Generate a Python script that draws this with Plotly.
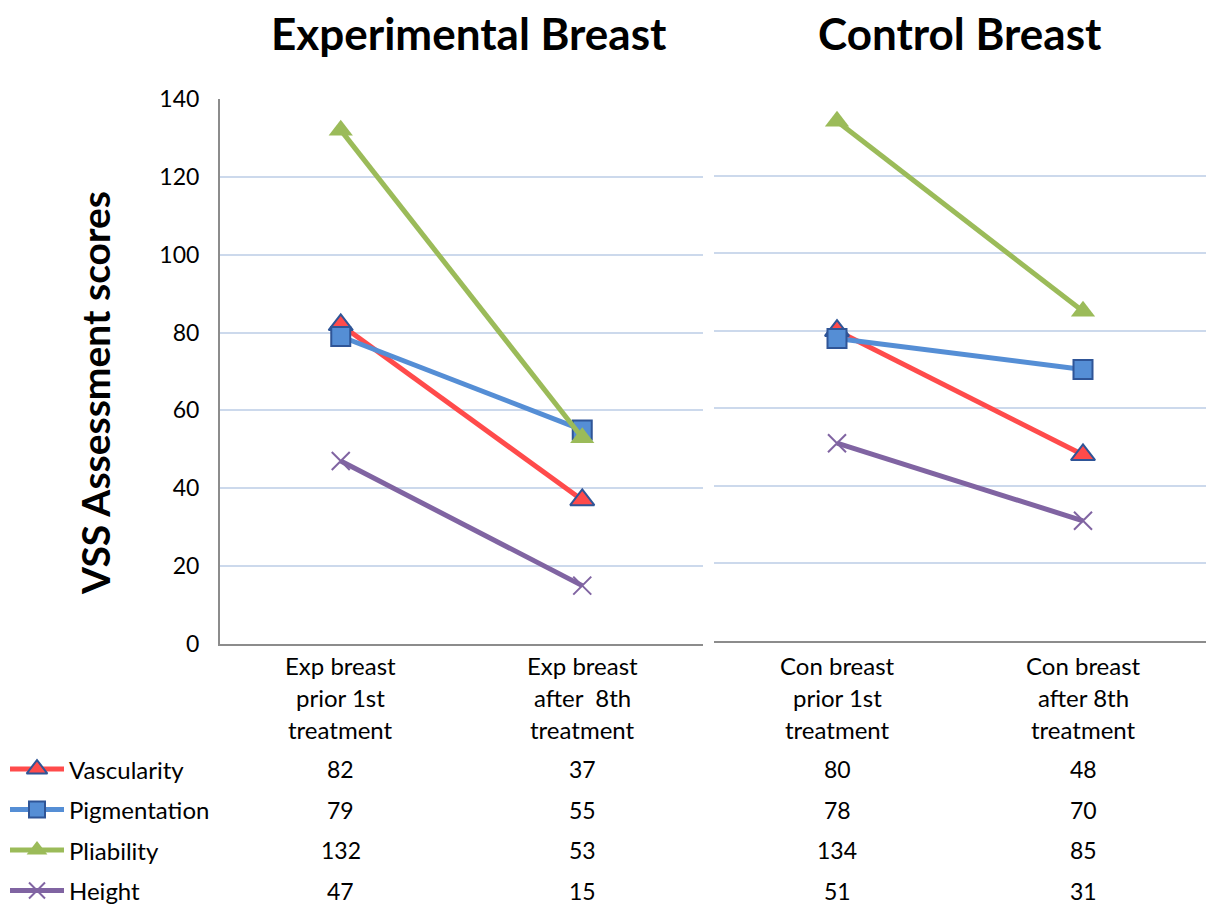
import plotly.graph_objects as go

# ---- data ----
series_names = ["Vascularity", "Pigmentation", "Pliability", "Height"]
exp_categories = ["Exp breast prior 1st treatment", "Exp breast after  8th treatment"]
con_categories = ["Con breast prior 1st treatment", "Con breast after 8th treatment"]
exp_label_lines = [["Exp breast", "prior 1st", "treatment"], ["Exp breast", "after  8th", "treatment"]]
con_label_lines = [["Con breast", "prior 1st", "treatment"], ["Con breast", "after 8th", "treatment"]]

exp_vascularity = [82, 37]
exp_pigmentation = [79, 55]
exp_pliability = [132, 53]
exp_height = [47, 15]

con_vascularity = [80, 48]
con_pigmentation = [78, 70]
con_pliability = [134, 85]
con_height = [51, 31]

y_ticks = [0, 20, 40, 60, 80, 100, 120, 140]

exp_values = [exp_vascularity, exp_pigmentation, exp_pliability, exp_height]
con_values = [con_vascularity, con_pigmentation, con_pliability, con_height]

# ---- styles ----
FONT = "Lato"
W, H = 1206, 906
TEXT_SIZE = 24
NUM_SIZE = 23
line_colors = ["#FF4B4B", "#558ED5", "#9BBB59", "#8064A2"]
marker_styles = [
    dict(symbol="triangle-up", size=21, color="#FF4B4B", line=dict(color="#2F5597", width=2)),
    dict(symbol="square", size=19, color="#558ED5", line=dict(color="#2F5597", width=2)),
    dict(symbol="triangle-up", size=21, color="#9BBB59", line=dict(width=0)),
    dict(symbol="x-thin", size=18, color="#8064A2", line=dict(color="#8064A2", width=2)),
]
legend_marker_styles = [
    dict(symbol="triangle-up", size=18, color="#FF4B4B", line=dict(color="#2F5597", width=2)),
    dict(symbol="square", size=16, color="#558ED5", line=dict(color="#2F5597", width=2)),
    dict(symbol="triangle-up", size=18, color="#9BBB59", line=dict(width=0)),
    dict(symbol="x-thin", size=16, color="#8064A2", line=dict(color="#8064A2", width=2)),
]


def px_x(p):
    return p / W


def px_y(p):
    return 1 - p / H


fig = go.Figure()

# chart series, one panel per breast
for i, name in enumerate(series_names):
    fig.add_trace(go.Scatter(
        x=exp_categories, y=exp_values[i], mode="lines+markers", name=name,
        line=dict(color=line_colors[i], width=5), marker=marker_styles[i],
        xaxis="x", yaxis="y", showlegend=False))
for i, name in enumerate(series_names):
    fig.add_trace(go.Scatter(
        x=con_categories, y=con_values[i], mode="lines+markers", name=name,
        line=dict(color=line_colors[i], width=5), marker=marker_styles[i],
        xaxis="x2", yaxis="y2", showlegend=False))

# legend keys of the data table (one row per series)
for i, name in enumerate(series_names):
    fig.add_trace(go.Scatter(
        x=[0, 1], y=[i, i], mode="lines", line=dict(color=line_colors[i], width=5),
        xaxis="x3", yaxis="y3", showlegend=False, hoverinfo="skip"))
    fig.add_trace(go.Scatter(
        x=[0.5], y=[i], mode="markers", marker=legend_marker_styles[i],
        xaxis="x3", yaxis="y3", showlegend=False, hoverinfo="skip"))

grid_color = "#CCD9EC"
axis_color = "#8C8C8C"
tick_font = dict(family=FONT, size=NUM_SIZE, color="#000000")

# table rows: first row centre and spacing
row_top = 748.8
row_gap = 40.5
fig.update_layout(
    width=W, height=H,
    margin=dict(l=0, r=0, t=0, b=0, autoexpand=False),
    paper_bgcolor="white", plot_bgcolor="white",
    font=dict(family=FONT, color="#000000"),
    xaxis=dict(domain=[px_x(220), px_x(703)], type="category", range=[-0.5, 1.5],
               showticklabels=False, showgrid=False, zeroline=False, automargin=False,
               showline=True, linecolor=axis_color, linewidth=2, ticks=""),
    yaxis=dict(domain=[px_y(644), px_y(99)], range=[0, 140], tickvals=y_ticks,
               showgrid=True, gridcolor=grid_color, gridwidth=1.5, zeroline=False,
               showline=True, linecolor=axis_color, linewidth=2, ticks="", automargin=False,
               tickfont=tick_font, ticklabelstandoff=14),
    xaxis2=dict(domain=[px_x(714), 1.0], type="category", range=[-0.5, 1.5],
                showticklabels=False, showgrid=False, zeroline=False, automargin=False,
                showline=True, linecolor=axis_color, linewidth=2, ticks="", anchor="y2"),
    yaxis2=dict(domain=[px_y(641), px_y(98)], range=[0, 140], tickvals=y_ticks,
                showgrid=True, gridcolor=grid_color, gridwidth=1.5, zeroline=False,
                automargin=False,
                showline=False, showticklabels=False, ticks="", anchor="x2"),
    xaxis3=dict(domain=[px_x(10), px_x(64)], range=[0, 1], visible=False,
                automargin=False, anchor="y3"),
    yaxis3=dict(domain=[0, px_y(row_top)],
                range=[-0.5 + (H - row_top) / row_gap, -0.5],
                visible=False, automargin=False, anchor="x3"),
)

annotations = []


def text_note(text, x, y, xref="paper", yref="paper", size=TEXT_SIZE, xanchor="center", angle=0):
    return dict(text=text, x=x, y=y, xref=xref, yref=yref, showarrow=False,
                xanchor=xanchor, yanchor="middle", textangle=angle,
                font=dict(family=FONT, size=size, color="#000000"))


# panel titles
annotations.append(text_note("<b>Experimental Breast</b>", px_x(469), px_y(33), size=44))
annotations.append(text_note("<b>Control Breast</b>", px_x(960), px_y(33), size=44))

# y-axis title
annotations.append(text_note("<b>VSS Assessment scores</b>", px_x(95), px_y(393), size=39, angle=-90))

# category labels, line by line
label_line_y = [665, 697, 729]
for xref, cats, lines in [("x", exp_categories, exp_label_lines),
                          ("x2", con_categories, con_label_lines)]:
    for cat, parts in zip(cats, lines):
        for part, ly in zip(parts, label_line_y):
            annotations.append(text_note(part, cat, px_y(ly), xref=xref))

# data table: series names and values
for i, name in enumerate(series_names):
    annotations.append(text_note(name, px_x(67), i, yref="y3", xanchor="left"))
    for cat, v in zip(exp_categories, exp_values[i]):
        annotations.append(text_note(str(v), cat, i, xref="x", yref="y3", size=NUM_SIZE))
    for cat, v in zip(con_categories, con_values[i]):
        annotations.append(text_note(str(v), cat, i, xref="x2", yref="y3", size=NUM_SIZE))

fig.update_layout(annotations=annotations)

fig.write_html("out.html")
